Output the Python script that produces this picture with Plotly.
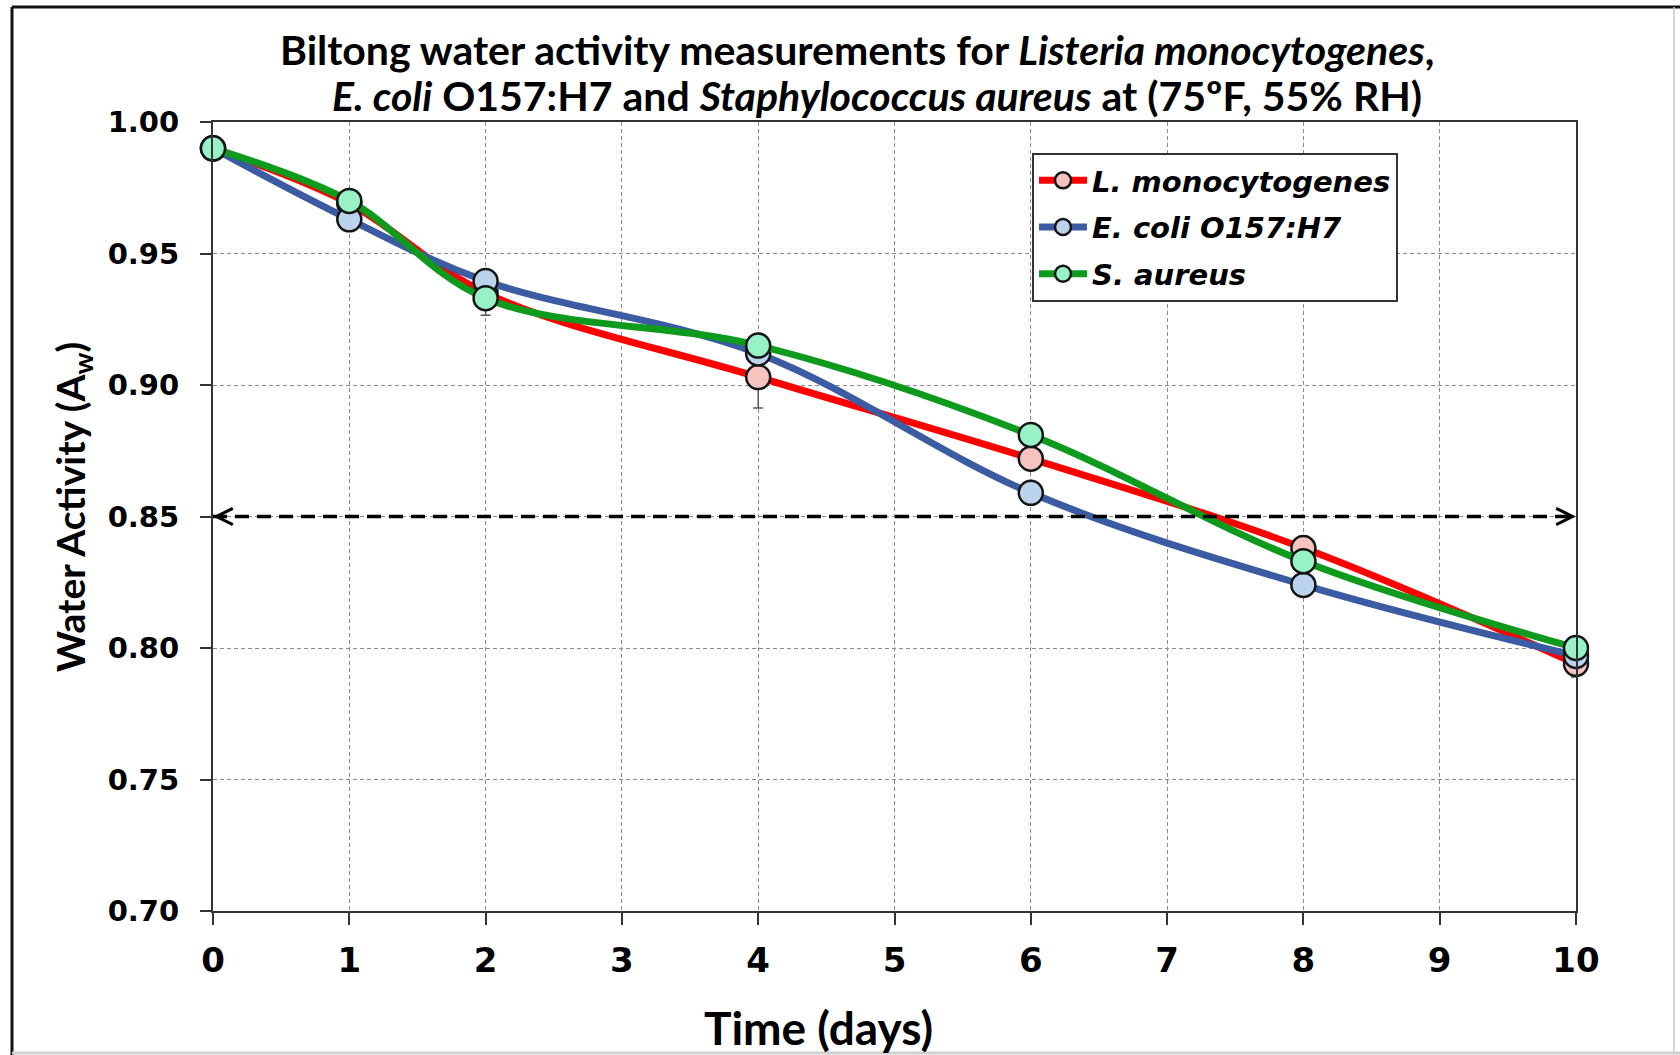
import plotly.graph_objects as go

# Sampling days
days = [0, 1, 2, 4, 6, 8, 10]

# Water activity (Aw) per organism
l_mono = [0.990, 0.969, 0.935, 0.903, 0.872, 0.838, 0.794]
e_coli = [0.990, 0.963, 0.9395, 0.912, 0.859, 0.824, 0.797]
s_aureus = [0.990, 0.970, 0.933, 0.915, 0.881, 0.833, 0.800]

# Standard deviation bars for L. monocytogenes
l_mono_err = [0.0, 0.002, 0.0085, 0.0117, 0.004, 0.0045, 0.005]

# Target water activity threshold
aw_limit = 0.85

y_ticks = [0.70, 0.75, 0.80, 0.85, 0.90, 0.95, 1.00]
x_ticks = list(range(0, 11))

# Plot-area placement in pixels
W, H = 1680, 1055
L, R, T, B = 213, 104, 122, 144
PW, PH = W - L - R, H - T - B


def px_x(p):
    return (p - L) / PW


def px_y(p):
    return (H - B - p) / PH


fig = go.Figure()

series = [
    ("L. monocytogenes", l_mono, "#FF0000", "#F6C3C1", l_mono_err),
    ("E. coli O157:H7", e_coli, "#3B5CA3", "#BCD3EE", None),
    ("S. aureus", s_aureus, "#0E9A1C", "#97F2C6", None),
]

for name, vals, line_col, fill_col, err in series:
    kw = {}
    if err is not None:
        kw["error_y"] = dict(type="data", array=err, visible=True,
                             color="#555555", thickness=1.5, width=5)
    fig.add_trace(go.Scatter(
        x=days, y=vals, name=name, mode="lines+markers",
        legendgroup=name,
        line=dict(color=line_col, width=7, shape="spline", smoothing=1),
        marker=dict(size=24, color=fill_col, line=dict(color="#151515", width=2.5)),
        cliponaxis=False,
        **kw,
    ))

# Dashed threshold line across the full time span
fig.add_trace(go.Scatter(
    x=[days[0], days[-1]], y=[aw_limit, aw_limit], mode="lines",
    line=dict(color="black", width=3.5, dash="14px,8px"),
    showlegend=False, hoverinfo="skip", cliponaxis=False,
))

title_font = dict(family="Lato", size=41, color="black", weight="bold")

annotations = [
    # arrow heads on both ends of the threshold line
    dict(x=days[-1], y=aw_limit, xref="x", yref="y", ax=-14, ay=0,
         showarrow=True, arrowhead=5, arrowwidth=3.2, arrowsize=1,
         arrowcolor="black", text=""),
    dict(x=days[0], y=aw_limit, xref="x", yref="y", ax=14, ay=0,
         showarrow=True, arrowhead=5, arrowwidth=3.2, arrowsize=1,
         arrowcolor="black", text=""),
    # chart title, two lines
    dict(x=px_x(857), y=px_y(49), xref="paper", yref="paper",
         xanchor="center", yanchor="middle", showarrow=False,
         text="Biltong water activity measurements for <i>Listeria monocytogenes</i>,",
         font=title_font),
    dict(x=px_x(877), y=px_y(95), xref="paper", yref="paper",
         xanchor="center", yanchor="middle", showarrow=False,
         text="<i>E. coli</i> O157:H7 and <i>Staphylococcus aureus</i> at (75ºF, 55% RH)",
         font=title_font),
    # axis titles
    dict(x=px_x(818), y=px_y(1027), xref="paper", yref="paper",
         xanchor="center", yanchor="middle", showarrow=False,
         text="Time (days)",
         font=dict(family="Lato", size=46, color="black", weight="bold")),
    dict(x=px_x(73), y=px_y(507), xref="paper", yref="paper",
         xanchor="center", yanchor="middle", showarrow=False, textangle=-90,
         text="Water Activity (A<sub>w</sub>)",
         font=dict(family="Lato", size=39, color="black", weight="bold")),
]

shapes = [
    # outer frame
    dict(type="line", xref="paper", yref="paper", x0=px_x(12), x1=px_x(1680),
         y0=px_y(7), y1=px_y(7), line=dict(color="#111111", width=3)),
    dict(type="line", xref="paper", yref="paper", x0=px_x(12), x1=px_x(12),
         y0=px_y(7), y1=px_y(1055), line=dict(color="#111111", width=3)),
    dict(type="line", xref="paper", yref="paper", x0=px_x(1674), x1=px_x(1674),
         y0=px_y(7), y1=px_y(1055), line=dict(color="#C8C8C8", width=1.5)),
    dict(type="line", xref="paper", yref="paper", x0=px_x(12), x1=px_x(1680),
         y0=px_y(1053), y1=px_y(1053), line=dict(color="#D0D0D0", width=3)),
]

fig.update_layout(
    width=W, height=H, autosize=False,
    margin=dict(l=L, r=R, t=T, b=B, pad=0),
    paper_bgcolor="white", plot_bgcolor="white",
    annotations=annotations, shapes=shapes,
    legend=dict(
        x=px_x(1032), y=px_y(153), xanchor="left", yanchor="top",
        bgcolor="white", bordercolor="#333333", borderwidth=2,
        font=dict(family="DejaVu Sans", size=29, color="black",
                  weight="bold", style="italic"),
        tracegroupgap=6, traceorder="grouped", itemwidth=48,
    ),
    xaxis=dict(
        range=[0, 10], tickvals=x_ticks, ticktext=[str(v) for v in x_ticks],
        showgrid=True, gridcolor="#8A8A8A", gridwidth=1, griddash="4px,3px",
        showline=True, linecolor="#333333", linewidth=2, mirror=True,
        ticks="outside", ticklen=12, tickcolor="#333333", tickwidth=1.5,
        ticklabelstandoff=6,
        tickfont=dict(family="DejaVu Sans", size=34, color="black", weight="bold"),
        zeroline=False, fixedrange=True,
    ),
    yaxis=dict(
        range=[0.70, 1.00], tickvals=y_ticks,
        ticktext=[f"{v:.2f}" for v in y_ticks],
        showgrid=True, gridcolor="#8A8A8A", gridwidth=1, griddash="4px,3px",
        showline=True, linecolor="#333333", linewidth=2, mirror=True,
        ticks="outside", ticklen=11, tickcolor="#333333", tickwidth=1.5,
        ticklabelstandoff=15,
        tickfont=dict(family="DejaVu Sans", size=29, color="black", weight="bold"),
        zeroline=False, fixedrange=True,
    ),
)

fig.write_html("out.html")
